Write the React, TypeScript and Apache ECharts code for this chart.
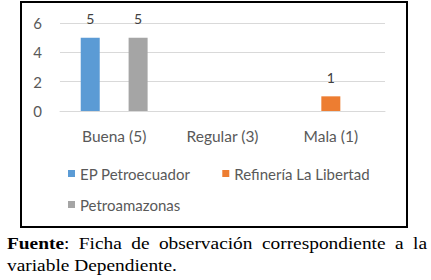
import React, { useEffect, useRef } from "react";
import * as echarts from "echarts";

const categories = ["Buena (5)", "Regular (3)", "Mala (1)"];
const seriesNames = ["EP Petroecuador", "Refinería La Libertad", "Petroamazonas"];
const petroecuador = [5, null, null];
const refineria = [null, null, 1];
const petroamazonas = [5, null, null];
const seriesColors = ["#5b9bd5", "#ed7d31", "#a5a5a5"];
const yMin = 0;
const yMax = 6;
const yInterval = 2;
const captionBold = "Fuente";
const captionLine1 = [":", "Ficha", "de", "observación", "correspondiente", "a", "la"];
const captionLine2 = "variable Dependiente.";

const SERIF = '"Liberation Serif", "Times New Roman", serif';
const SANS = 'Lato, "Noto Sans", sans-serif';
const CAP_SIZE = 17;
const CAP_SCALE_X = 1.14;

function measure(text: string, bold: boolean): number {
  const c = document.createElement("canvas");
  const ctx = c.getContext("2d")!;
  ctx.font = `${bold ? "bold " : ""}${CAP_SIZE}px "Liberation Serif"`;
  return ctx.measureText(text).width * CAP_SCALE_X;
}

function captionGraphics(): any[] {
  const left = 7;
  const right = 427;
  const y1 = 243.5;
  const y2 = 265;
  const boldW = measure(captionBold, true);
  const words = captionLine1.slice(1);
  const colonW = measure(captionLine1[0], false);
  const firstW = boldW + colonW;
  const widths = words.map((w) => measure(w, false));
  const total = firstW + widths.reduce((a, b) => a + b, 0);
  const gap = (right - left - total) / words.length;
  const els: any[] = [];
  const base = { fontFamily: SERIF, fontSize: CAP_SIZE, fill: "#000", verticalAlign: "middle", align: "left" };
  const mk = (x: number, y: number, style: any) => ({ type: "text", x, y, scaleX: CAP_SCALE_X, style: { ...base, ...style } });
  els.push(mk(left, y1, { text: captionBold, fontWeight: "bold" }));
  els.push(mk(left + boldW, y1, { text: captionLine1[0] }));
  let x = left + firstW + gap;
  words.forEach((w, i) => {
    els.push(mk(x, y1, { text: w }));
    x += widths[i] + gap;
  });
  els.push(mk(left, y2, { text: captionLine2 }));
  return els;
}

export default function App() {
  const ref = useRef<HTMLDivElement>(null);
  useEffect(() => {
    if (!ref.current) return;
    const chart = echarts.init(ref.current, null, { renderer: "svg" });
    const dataSets = [petroecuador, refineria, petroamazonas];
    const legendText = { color: "#595959", fontSize: 15, fontFamily: SANS };
    chart.setOption({
      animation: false,
      backgroundColor: "#ffffff",
      grid: { left: 60, right: 46, top: 23, bottom: 169, containLabel: false },
      xAxis: {
        type: "category",
        data: categories,
        axisLine: { show: true, lineStyle: { color: "#d9d9d9", width: 1 } },
        axisTick: { show: false },
        axisLabel: { color: "#595959", fontSize: 15.5, fontFamily: SANS, margin: 17 },
      },
      yAxis: {
        type: "value",
        min: yMin,
        max: yMax,
        interval: yInterval,
        axisLine: { show: false },
        axisTick: { show: false },
        axisLabel: { color: "#595959", fontSize: 15, fontFamily: SANS, margin: 18 },
        splitLine: { lineStyle: { color: "#d9d9d9", width: 1 } },
      },
      legend: [
        {
          left: 68,
          top: 166,
          padding: 0,
          icon: "rect",
          itemWidth: 7,
          itemHeight: 7,
          itemGap: 32,
          data: [seriesNames[0], seriesNames[1]],
          textStyle: legendText,
        },
        {
          left: 68,
          top: 197,
          padding: 0,
          icon: "rect",
          itemWidth: 7,
          itemHeight: 7,
          itemGap: 32,
          data: [seriesNames[2]],
          textStyle: legendText,
        },
      ],
      series: seriesNames.map((name, i) => ({
        name,
        type: "bar",
        data: dataSets[i],
        barWidth: 19,
        barGap: "26%",
        itemStyle: { color: seriesColors[i] },
        label: {
          show: true,
          position: "top",
          distance: 12,
          color: "#404040",
          fontSize: 14,
          fontFamily: SANS,
        },
      })),
      graphic: [
        {
          type: "rect",
          shape: { x: 21, y: 2, width: 386, height: 225 },
          style: { fill: "none", stroke: "#000000", lineWidth: 2 },
          silent: true,
        },
        ...captionGraphics(),
      ],
    });
    return () => chart.dispose();
  }, []);
  return (
    <div
      ref={ref}
      style={{ position: "fixed", left: 0, top: 0, width: 431, height: 280, background: "#fff" }}
    />
  );
}
